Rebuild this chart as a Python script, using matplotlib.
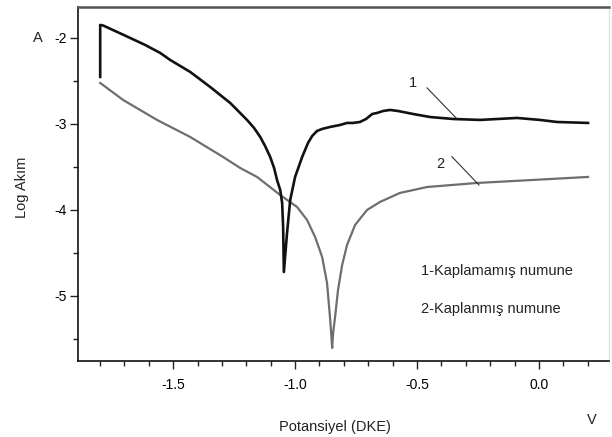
import matplotlib
matplotlib.use("Agg")
import matplotlib.pyplot as plt
from matplotlib.ticker import MultipleLocator, FixedLocator

plt.rcParams['font.family'] = ['Liberation Sans', 'DejaVu Sans']

# Curve 1: uncoated sample (black)
x1 = [-1.799, -1.799, -1.787, -1.676, -1.615, -1.553, -1.512, -1.430, -1.348, -1.307,
      -1.266, -1.197, -1.168, -1.143, -1.123, -1.102, -1.086, -1.074, -1.061, -1.053,
      -1.049, -1.046, -1.033, -1.020, -1.000, -0.971, -0.947, -0.930, -0.910, -0.889,
      -0.857, -0.816, -0.787, -0.762, -0.734, -0.709, -0.684, -0.664, -0.639, -0.611,
      -0.578, -0.516, -0.447, -0.352, -0.242, -0.090, 0.004, 0.074, 0.201]
y1 = [-2.453, -1.849, -1.855, -2.000, -2.081, -2.174, -2.256, -2.395, -2.570, -2.663,
      -2.756, -2.953, -3.047, -3.151, -3.256, -3.384, -3.512, -3.651, -3.767, -3.919,
      -4.198, -4.721, -4.267, -3.884, -3.616, -3.384, -3.221, -3.140, -3.081, -3.058,
      -3.035, -3.012, -2.988, -2.988, -2.977, -2.942, -2.884, -2.872, -2.849, -2.837,
      -2.849, -2.884, -2.919, -2.942, -2.953, -2.930, -2.953, -2.977, -2.988]

# Curve 2: coated sample (gray)
x2 = [-1.799, -1.705, -1.566, -1.430, -1.295, -1.225, -1.156, -1.061, -0.992, -0.951,
      -0.918, -0.889, -0.869, -0.857, -0.852, -0.848, -0.844, -0.836, -0.824, -0.807,
      -0.787, -0.754, -0.705, -0.652, -0.570, -0.459, -0.254, -0.025, 0.201]
y2 = [-2.523, -2.721, -2.953, -3.151, -3.384, -3.512, -3.616, -3.826, -3.965, -4.116,
      -4.314, -4.547, -4.849, -5.244, -5.430, -5.605, -5.430, -5.244, -4.930, -4.640,
      -4.407, -4.174, -4.000, -3.907, -3.802, -3.733, -3.686, -3.651, -3.616]

x_major = [-1.5, -1.0, -0.5, 0.0]
x_labels = ["-1.5", "-1.0", "-0.5", "0.0"]
y_major = [-2, -3, -4, -5]
y_labels = ["-2", "-3", "-4", "-5"]

legend_lines = ["1-Kaplamamış numune", "2-Kaplanmış numune"]

fig = plt.figure(figsize=(6.12, 4.37), dpi=100)
ax = fig.add_axes([78/612, 1 - 361/437, (609-78)/612, (361-7)/437])

ax.plot(x2, y2, color='#6e6e6e', lw=1.6, solid_joinstyle='round')
ax.plot(x1, y1, color='#111111', lw=1.9, solid_joinstyle='round')

ax.set_xlim(-1.89, 0.287)
ax.set_ylim(-5.756, -1.64)

ax.xaxis.set_major_locator(FixedLocator(x_major))
ax.set_xticklabels(x_labels)
ax.xaxis.set_minor_locator(MultipleLocator(0.1))
ax.yaxis.set_major_locator(FixedLocator(y_major))
ax.set_yticklabels(y_labels)
ax.yaxis.set_minor_locator(MultipleLocator(0.5))

ax.tick_params(which='major', direction='out', length=6, width=1.0, labelsize=10, pad=2, color='#222')
ax.tick_params(which='minor', direction='out', length=3.5, width=1.0, color='#222')
ax.tick_params(axis='x', which='major', pad=6)

for s in ['left', 'bottom']:
    ax.spines[s].set_color('#111')
    ax.spines[s].set_linewidth(1.2)
ax.spines['top'].set_color('#555555')
ax.spines['top'].set_linewidth(1.8)
ax.spines['right'].set_color('#e2e2e2')
ax.spines['right'].set_linewidth(1.0)

# curve labels and leader lines
ax.text(-0.516, -2.52, "1", fontsize=10.5, ha='center', va='center', color='#222')
ax.plot([-0.459, -0.340], [-2.58, -2.93], color='#333', lw=0.8)
ax.text(-0.406, -3.47, "2", fontsize=10.5, ha='center', va='center', color='#222')
ax.plot([-0.357, -0.246], [-3.38, -3.71], color='#333', lw=0.8)

ax.text(-0.484, -4.71, legend_lines[0], fontsize=10.5, ha='left', va='center', color='#222')
ax.text(-0.484, -5.15, legend_lines[1], fontsize=10.5, ha='left', va='center', color='#222')

fig.text(38/612, 1 - 38/437, "A", fontsize=10.5, ha='center', va='center', color='#222')
fig.text(22/612, 1 - 187/437, "Log Akım", fontsize=10.5, rotation=90, ha='center', va='center', color='#222')
fig.text(335/612, 1 - 427/437, "Potansiyel (DKE)", fontsize=10.5, ha='center', va='center', color='#222')
fig.text(592/612, 1 - 420/437, "V", fontsize=10.5, ha='center', va='center', color='#222')

fig.savefig("out.png", dpi=100)
